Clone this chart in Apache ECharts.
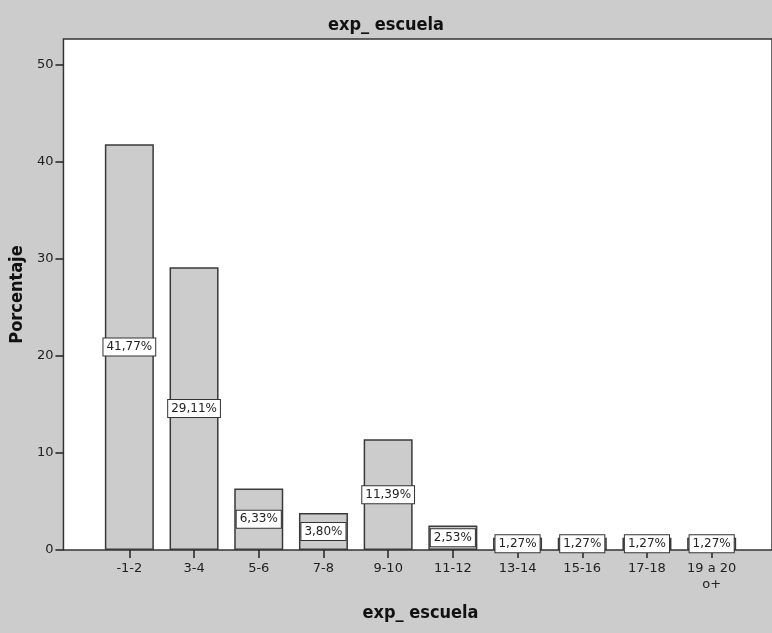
<!DOCTYPE html>
<html>
<head>
<meta charset="utf-8">
<script src="https://cdn.jsdelivr.net/npm/echarts@6/dist/echarts.min.js"></script>
<style>
  html, body { margin: 0; padding: 0; background: #cccccc; }
  #grafica { width: 772px; height: 633px; }
</style>
</head>
<body>
<div id="grafica"></div>
<script>
// Datos de la grafica
const categorias = ['-1-2', '3-4', '5-6', '7-8', '9-10', '11-12', '13-14', '15-16', '17-18', '19 a 20\no+'];
const porcentajes = [41.77, 29.11, 6.33, 3.80, 11.39, 2.53, 1.27, 1.27, 1.27, 1.27];
const ticksY = [0, 10, 20, 30, 40, 50];

const fuenteTitulo = 'DejaVu Sans Condensed';
const yMax = 52.6;

const myChart = echarts.init(document.getElementById('grafica'));

option = {
    backgroundColor: '#cccccc',
    animation: false,
    title: {
        text: 'exp_ escuela',
        left: 'center',
        top: 11,
        textStyle: {
            fontFamily: fuenteTitulo,
            fontWeight: 'bold',
            fontSize: 18,
            color: '#111'
        }
    },
    grid: [
        // grid de las barras
        { left: 97, right: 28, top: 39, bottom: 83 },
        // grid del fondo blanco con el marco
        {
            left: 60, right: -5, top: 39, bottom: 83,
            show: true,
            backgroundColor: '#ffffff',
            borderColor: '#333333',
            borderWidth: 1.5
        }
    ],
    xAxis: [
        {
            type: 'category',
            gridIndex: 0,
            data: categorias,
            axisLine: { show: false },
            axisTick: {
                show: true,
                alignWithLabel: true,
                length: 8,
                lineStyle: { color: '#222', width: 1.5 }
            },
            axisLabel: {
                fontFamily: 'DejaVu Sans',
                fontSize: 13,
                color: '#222',
                margin: 11,
                lineHeight: 16,
                interval: 0
            },
            name: 'exp_ escuela',
            nameLocation: 'middle',
            nameGap: 54,
            nameTextStyle: {
                fontFamily: fuenteTitulo,
                fontWeight: 'bold',
                fontSize: 18,
                color: '#111'
            }
        },
        { type: 'value', gridIndex: 1, show: false }
    ],
    yAxis: [
        {
            type: 'value',
            gridIndex: 0,
            min: 0,
            max: yMax,
            show: false
        },
        {
            type: 'value',
            gridIndex: 1,
            min: 0,
            max: yMax,
            interval: 10,
            axisLine: { show: false },
            axisTick: {
                show: true,
                length: 8,
                lineStyle: { color: '#222', width: 1.5 }
            },
            axisLabel: {
                showMaxLabel: false,
                fontFamily: 'DejaVu Sans',
                fontSize: 13,
                color: '#222',
                margin: 10,
                formatter: function (v) {
                    return ticksY.indexOf(v) >= 0 ? String(v) : '';
                }
            },
            splitLine: { show: false },
            name: 'Porcentaje',
            nameLocation: 'middle',
            nameGap: 37,
            nameTextStyle: {
                fontFamily: fuenteTitulo,
                fontWeight: 'bold',
                fontSize: 18,
                color: '#111'
            }
        }
    ],
    series: [
        {
            type: 'bar',
            xAxisIndex: 0,
            yAxisIndex: 0,
            data: porcentajes,
            barWidth: 49,
            itemStyle: {
                color: '#cccccc',
                borderColor: '#3a3a3a',
                borderWidth: 1.5
            },
            label: {
                show: true,
                position: 'inside',
                formatter: function (p) {
                    return p.value.toFixed(2).replace('.', ',') + '%';
                },
                fontFamily: 'DejaVu Sans',
                fontSize: 12,
                color: '#222',
                backgroundColor: '#ffffff',
                borderColor: '#333333',
                borderWidth: 1,
                padding: [3, 3, 2, 3]
            }
        }
    ]
};

myChart.setOption(option);
</script>
</body>
</html>
